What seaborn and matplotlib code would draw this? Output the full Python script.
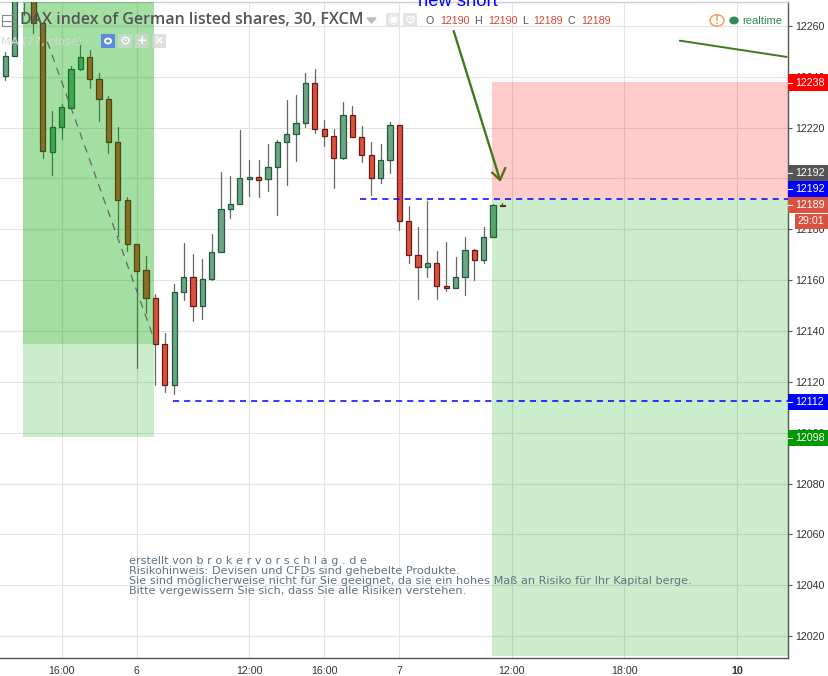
import pandas as pd
import matplotlib
matplotlib.use("Agg")
import matplotlib.pyplot as plt
import seaborn as sns
from matplotlib.patches import Rectangle, Circle, Polygon
from matplotlib.lines import Line2D

# Candle values, DAX 30 min
opens = [12240.4, 12248.0, 12274.0, 12282.0, 12261.2, 12210.6, 12220.1, 12227.9, 12242.9, 12247.6,
         12239.3, 12231.1, 12214.2, 12191.4, 12174.4, 12164.0, 12152.8, 12134.7, 12118.6, 12155.4,
         12161.1, 12150.0, 12160.3, 12171.1, 12187.8, 12190.0, 12199.8, 12200.4, 12199.6, 12204.7,
         12214.2, 12217.4, 12221.7, 12237.5, 12219.4, 12216.6, 12208.0, 12224.9, 12216.2, 12209.1,
         12200.1, 12207.2, 12220.9, 12183.2, 12169.8, 12165.1, 12166.6, 12157.6, 12156.8, 12161.1,
         12171.8, 12167.8, 12176.9, 12189.6]
highs = [12249.8, 12280.0, 12285.0, 12285.0, 12261.2, 12226.6, 12229.3, 12244.3, 12254.1, 12250.6,
         12241.5, 12232.5, 12220.3, 12192.7, 12174.4, 12169.5, 12154.6, 12139.2, 12158.5, 12174.6,
         12170.3, 12168.3, 12178.2, 12202.6, 12201.0, 12219.1, 12207.3, 12207.3, 12213.6, 12215.2,
         12230.9, 12232.9, 12241.4, 12243.1, 12223.0, 12219.4, 12230.1, 12228.5, 12220.7, 12214.4,
         12213.6, 12222.2, 12220.9, 12189.2, 12180.9, 12191.2, 12171.5, 12175.0, 12169.1, 12176.9,
         12172.3, 12180.8, 12190.0, 12190.2]
lows = [12238.8, 12248.0, 12264.3, 12257.2, 12208.1, 12201.4, 12215.5, 12227.7, 12242.7, 12235.6,
        12222.6, 12210.0, 12177.4, 12171.5, 12125.6, 12147.1, 12118.8, 12116.0, 12115.4, 12152.2,
        12144.1, 12144.7, 12160.1, 12171.1, 12184.5, 12190.0, 12193.1, 12192.7, 12195.1, 12185.8,
        12197.6, 12207.0, 12220.4, 12218.0, 12212.8, 12196.4, 12207.6, 12216.2, 12206.6, 12193.6,
        12198.4, 12202.3, 12179.9, 12166.9, 12152.7, 12161.4, 12152.5, 12155.9, 12156.8, 12154.3,
        12160.2, 12166.9, 12176.9, 12189.2]
closes = [12248.2, 12275.0, 12282.0, 12261.2, 12210.8, 12220.3, 12228.1, 12242.9, 12247.6, 12239.3,
          12231.1, 12214.2, 12191.4, 12174.4, 12163.8, 12152.8, 12134.7, 12118.6, 12155.4, 12161.1,
          12150.0, 12160.3, 12171.1, 12187.8, 12190.0, 12200.2, 12200.4, 12199.4, 12204.7, 12214.2,
          12217.4, 12221.7, 12237.5, 12219.4, 12216.6, 12208.0, 12224.9, 12216.2, 12209.1, 12200.1,
          12207.2, 12220.9, 12183.2, 12169.8, 12165.1, 12166.6, 12157.6, 12156.8, 12161.1, 12171.8,
          12167.8, 12176.9, 12189.5, 12189.2]

x_ticks = [6, 14, 26, 34, 42, 54, 66, 78]
x_labels = ["16:00", "6", "12:00", "16:00", "7", "12:00", "18:00", "10"]
y_ticks = list(range(12020, 12261, 20))

# drawings on the chart: (bar, price)
trend_x, trend_y = [3, 16], [12269, 12135.3]
arrow_x, arrow_y = [47.8, 52.74], [12258, 12199.4]
barb_x, barb_y = [51.9, 52.74, 53.3], [12202.3, 12199.4, 12204.1]
line_x, line_y = [71.9, 83.3], [12254.2, 12247.8]
entry_x, entry_y = [37.8, 84], [12192, 12192]
target_x, target_y = [17.9, 84], [12112.3, 12112.3]

# position boxes: bar start, bar end, price low, price high
left_zone = [1.94, 15.9, 12098.3, 12280]
left_zone_top = [1.94, 15.9, 12135, 12280]
right_stop = [51.9, 83.4, 12192, 12238]
right_profit = [51.9, 83.4, 12012.2, 12192]

note_lines = ["erstellt von b r o k e r v o r s c h l a g . d e",
              "Risikohinweis: Devisen und CFDs sind gehebelte Produkte.",
              "Sie sind möglicherweise nicht für Sie geeignet, da sie ein hohes Maß an Risiko für Ihr Kapital berge.",
              "Bitte vergewissern Sie sich, dass Sie alle Risiken verstehen."]

# price flags: label, box colour, top px, bottom px
flags = [("12238", "#ff0000", 74, 91), ("12192", "#555555", 165, 181), ("12192", "#0000ff", 181, 197),
         ("12189", "#d9513f", 197, 213), ("12112", "#0000ff", 394, 410), ("12098", "#009900", 430, 446)]

W, H = 829, 676
sns.set_style("whitegrid", {"grid.color": "#e4e4e4", "axes.edgecolor": "#555555"})
plt.rcParams["font.family"] = ["Liberation Sans", "DejaVu Sans"]
fig = plt.figure(figsize=(W / 100, H / 100), dpi=100)
ax = fig.add_axes([0, (H - 658) / H, 788 / W, 656 / H])
ax.set_xlim(-0.565, 83.44)
ax.set_ylim(12011.4, 12269.4)
ax.set_axisbelow(True)
ax.grid(True, lw=0.8)

df = pd.DataFrame({"bar": range(len(opens)), "open": opens, "high": highs, "low": lows, "close": closes})
wicks = df.melt(id_vars="bar", value_vars=["high", "low"], value_name="price")
sns.lineplot(data=wicks, x="bar", y="price", units="bar", estimator=None, color="#666666",
             lw=0.9, zorder=2, ax=ax)

up = df[df.close >= df.open]
down = df[df.close < df.open]
ax.bar(up.bar, up.close - up.open, bottom=up.open, width=0.56, color="#6ba583", edgecolor="#225b3b", lw=0.9, zorder=3)
ax.bar(down.bar, down.open - down.close, bottom=down.close, width=0.56, color="#d9513f", edgecolor="#6b1a12", lw=0.9, zorder=3)

for box_vals, col in [(left_zone, "#00a500"), (left_zone_top, "#00a500"), (right_stop, "#ff0000"), (right_profit, "#00a500")]:
    ax.add_patch(Rectangle((box_vals[0], box_vals[2]), box_vals[1] - box_vals[0], box_vals[3] - box_vals[2],
                           color=col, alpha=0.2, lw=0, zorder=4))


def seg(xs, ys, **kw):
    sns.lineplot(x=xs, y=ys, sort=False, estimator=None, ax=ax, zorder=5, **kw)


seg(trend_x, trend_y, color="#666666", lw=0.9, linestyle=(0, (6, 5)))
seg(arrow_x, arrow_y, color="#3f7a1c", lw=1.7)
seg(barb_x, barb_y, color="#5f6a18", lw=1.7)
seg(line_x, line_y, color="#3f7a1c", lw=1.4)
seg(entry_x, entry_y, color="#0000ff", lw=1.1, linestyle=(0, (4, 3.3)))
seg(target_x, target_y, color="#0000ff", lw=1.1, linestyle=(0, (4, 3.3)))

ax.set_xlabel("")
ax.set_ylabel("")
ax.set_xticks(x_ticks)
ax.set_xticklabels(x_labels, fontsize=7.7, color="#333333")
ax.get_xticklabels()[-1].set_fontweight("bold")
ax.yaxis.tick_right()
ax.set_yticks(y_ticks)
ax.set_yticklabels([str(v) for v in y_ticks], fontsize=7.7, color="#333333")
ax.tick_params(axis="both", length=3, width=0.8, color="#555555", pad=2.5)
ax.spines["left"].set_visible(False)
ax.spines["top"].set_color("#cfcfdc")
ax.spines["right"].set_color("#555555")
ax.spines["bottom"].set_color("#555555")
for s in ax.spines.values():
    s.set_linewidth(1.0)


def fx(px):
    return px / W


def fy(py):
    return 1 - py / H


def box(x0, y0, x1, y1, col, **kw):
    fig.add_artist(Rectangle((fx(x0), fy(y1)), (x1 - x0) / W, (y1 - y0) / H, transform=fig.transFigure,
                             facecolor=col, edgecolor="none", **kw))


def label(px, py, s, **kw):
    kw.setdefault("va", "center")
    fig.text(fx(px), fy(py), s, **kw)


# price flags on the axis
for txt, col, top, bot in flags:
    box(788, top, 829, bot, col, zorder=10)
    fig.add_artist(Line2D([fx(788), fx(792)], [fy((top + bot) / 2)] * 2, color="white", lw=0.8, zorder=11))
    label(795, (top + bot) / 2, txt, color="white", fontsize=7.7, zorder=11)
box(795, 214, 829, 229, "#d9513f", zorder=10)
label(798, 221.5, "29:01", color="white", fontsize=7.7, zorder=11)

# header
label(20, 20, "DAX index of German listed shares, 30, FXCM", color="#555555", fontsize=11.5, zorder=9,
      family=["Open Sans", "DejaVu Sans"], fontweight="semibold")
fig.add_artist(Rectangle((fx(2), fy(26)), 11 / W, 11 / H, transform=fig.transFigure, facecolor="none",
                         edgecolor="#888888", lw=0.8))
fig.add_artist(Line2D([fx(2), fx(13)], [fy(20.5)] * 2, color="#888888", lw=0.8))
label(1, 41, "MA (27, close)", color="#d8d8d8", fontsize=8.2, family=["DejaVu Sans"], zorder=9)
box(101, 34, 115, 48, "#5a8de0", zorder=9)
fig.add_artist(Circle((fx(108), fy(41)), 3 / W, transform=fig.transFigure, facecolor="none", edgecolor="white", lw=1.4, zorder=10))
for x0, sym in [(118, "\u2699"), (135, "+"), (152, "\u00d7")]:
    box(x0, 34, x0 + 14, 48, "#cfd8cf", alpha=0.75, zorder=9)
    label(x0 + 7, 41, sym, color="white", fontsize=9, ha="center", family=["DejaVu Sans"], zorder=10, fontweight="bold")

fig.add_artist(Polygon([[fx(367), fy(18)], [fx(376), fy(18)], [fx(371.5), fy(23)]], transform=fig.transFigure, color="#bbbbbb"))
for x0, sym in [(386, "\u25c9"), (403, "\u2699")]:
    box(x0, 13, x0 + 14, 27, "#e4e4e4", zorder=9)
    label(x0 + 7, 20, sym, color="white", fontsize=9, ha="center", family=["DejaVu Sans"], zorder=10)

for x0, s, col in [(425, "O", "#555555"), (440, "12190", "#d9432f"), (474, "H", "#555555"), (488, "12190", "#d9432f"),
                   (522, "L", "#555555"), (533, "12189", "#d9432f"), (568, "C", "#555555"), (581, "12189", "#d9432f")]:
    label(x0, 20.5, s, color=col, fontsize=7.7, zorder=9)

label(418, 1.5, "new short", color="#0000ff", fontsize=13.2, zorder=9)

fig.add_artist(Circle((fx(717), fy(20.5)), 7 / W, transform=fig.transFigure, facecolor="white", edgecolor="#f4a063", lw=1.1, zorder=9))
label(717, 20.5, "!", color="#f4a063", fontsize=9, ha="center", fontweight="bold", zorder=10)
fig.add_artist(Circle((fx(734), fy(20.5)), 4 / W, transform=fig.transFigure, color="#2e8b57", zorder=9))
label(742, 20.5, "realtime", color="#2e8b57", fontsize=8.1, zorder=9)

# disclaimer
for i, line in enumerate(note_lines):
    label(129, 561 + i * 10, line, color="#5f7384", fontsize=8.08, family=["DejaVu Sans"], zorder=9)

fig.savefig("out.png", dpi=100)
